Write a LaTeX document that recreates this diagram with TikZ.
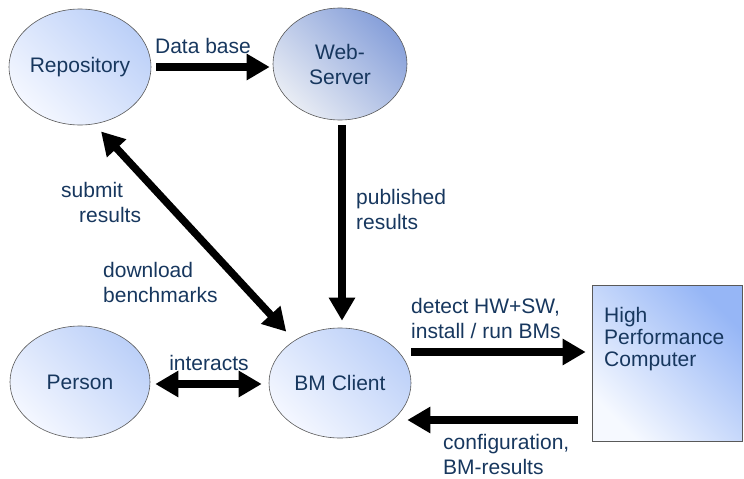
\documentclass[tikz,border=0pt]{standalone}
\usepackage{fontspec}
\setmainfont{Liberation Sans}
\usetikzlibrary{shapes.geometric,arrows.meta}
\definecolor{txt}{RGB}{23,55,94}
\definecolor{bubtop}{RGB}{188,208,248}
\definecolor{bubbot}{RGB}{244,247,255}
\definecolor{webtop}{RGB}{135,160,218}
\definecolor{webbot}{RGB}{232,236,244}
\definecolor{hpctop}{RGB}{150,182,246}
\definecolor{hpcbot}{RGB}{246,249,255}
\begin{document}
\begin{tikzpicture}[x=1pt,y=-1pt,
  every node/.style={font=\fontsize{21}{25}\selectfont, text=txt},
  bubble/.style={ellipse, draw=gray!70!black, line width=0.6pt, inner sep=0pt, align=center,
    top color=bubtop, bottom color=bubbot, shading angle=-45},
  lbl/.style={anchor=base west, align=left, inner sep=0pt},
  bigarrow/.style={line width=7.5pt, -{Triangle[length=23pt,width=25pt]}},
  bigboth/.style={line width=7.5pt, {Triangle[length=23pt,width=25pt]}-{Triangle[length=23pt,width=25pt]}}]
\useasboundingbox (0,0) rectangle (744,479);

\node[bubble, minimum width=140pt, minimum height=116pt] (repo) at (80,67) {Repository};
\node[bubble, minimum width=134pt, minimum height=112pt, top color=webtop, bottom color=webbot, shading angle=-45] (web) at (340,64) {Web-\\Server};
\node[bubble, minimum width=140pt, minimum height=112pt] (person) at (80,382) {Person};
\node[bubble, minimum width=142pt, minimum height=110pt] (client) at (340,383) {BM Client};
\node[draw=gray!70!black, line width=0.6pt, minimum width=150pt, minimum height=156pt,
  top color=hpctop, bottom color=hpcbot, shading angle=-45] (hpc) at (667,363) {};
\node[lbl, font=\fontsize{21}{22}\selectfont] (hpctext) at (604,366) {High\\Performance\\Computer};

% connectors
\draw[bigarrow, shorten <=5pt, shorten >=3pt] (repo.east) -- (repo.east -| web.west);
\coordinate (w1) at ([xshift=2pt]web.south);
\draw[bigarrow, shorten <=5pt, shorten >=7pt] (w1) -- (w1 |- client.north);
\draw[bigboth, shorten <=10pt, shorten >=12pt] (repo.-76) -- (client.137);
\coordinate (p1) at ([yshift=-2pt]person.east);
\draw[bigboth, shorten <=5pt, shorten >=7pt] (p1) -- (p1 -| client.west);
\coordinate (c1) at ([yshift=31pt]client.east);
\draw[bigarrow, shorten >=6pt] (c1) -- (c1 -| hpc.west);
\coordinate (c2) at ([yshift=-57pt]hpc.west);
\draw[bigarrow, shorten <=14pt, shorten >=-4pt] (c2) -- (c2 -| client.east);

% labels
\node[anchor=base, inner sep=0pt] (ldb) at (203,53) {Data base};
\node[lbl] (lsub) at (61,222) {submit\\\hspace*{18pt}results};
\node[lbl] (ldown) at (103,302) {download\\benchmarks};
\node[lbl] (lpub) at (356,229) {published\\results};
\node[anchor=base, inner sep=0pt] (lint) at (209,370) {interacts};
\node[lbl] (ldet) at (411,338) {detect HW+SW,\\install / run BMs};
\node[lbl] (lconf) at (443,474) {configuration,\\BM-results};
\end{tikzpicture}
\end{document}
